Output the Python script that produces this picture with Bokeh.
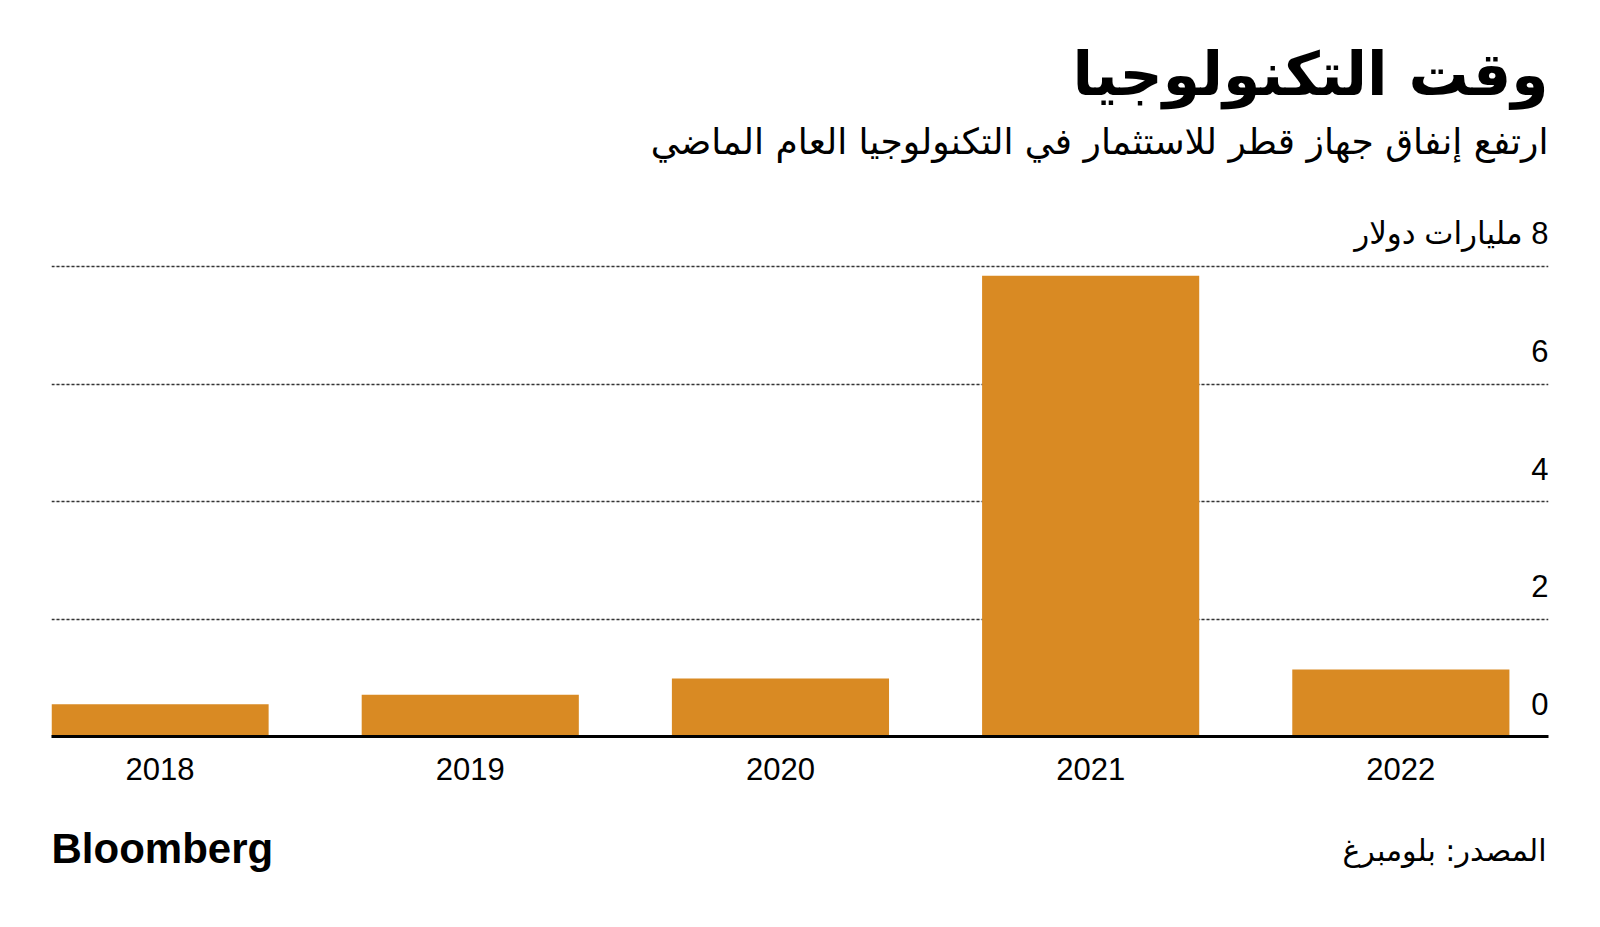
from bokeh.plotting import figure
from bokeh.layouts import column
from bokeh.models import FixedTicker, Grid, ColumnDataSource, Range1d
from bokeh.core.properties import value
from bokeh.embed import file_html
from bokeh.resources import INLINE

# ---- data ----
years = ["2018", "2019", "2020", "2021", "2022"]
spend = [0.55, 0.71, 0.99, 7.85, 1.14]   # billion dollars
y_ticks = [0, 2, 4, 6, 8]
unit = "مليارات دولار"
title_text = "وقت التكنولوجيا"
subtitle_text = "ارتفع إنفاق جهاز قطر للاستثمار في التكنولوجيا العام الماضي"
source_text = "المصدر: بلومبرغ"
logo_text = "Bloomberg"

idx = list(range(len(years)))
BAR = "#D98A23"
AR_FONT = "DejaVu Sans"
LAT_FONT = "Liberation Sans"
MIX_FONT = "Liberation Sans, DejaVu Sans"

W = 1600
TOP_H = 200
MAIN_H = 600
BOT_H = 127
LEFT, RIGHT = 51, 1548


def blank(h, y0):
    f = figure(width=W, height=h, output_backend="svg", toolbar_location=None,
               x_range=Range1d(LEFT, RIGHT), y_range=Range1d(y0 + h, y0),
               x_axis_location=None, y_axis_location=None,
               min_border_left=LEFT, min_border_right=W - RIGHT,
               min_border_top=0, min_border_bottom=0)
    f.outline_line_color = None
    f.grid.visible = False
    f.background_fill_color = "white"
    f.border_fill_color = "white"
    return f


# ---- header ----
top = blank(TOP_H, 0)
top.text(x=[1548], y=[73], text=[title_text], text_align="right", text_baseline="middle",
         text_font=value(AR_FONT), text_font_style="bold", text_font_size="60px",
         text_color="black")
top.text(x=[1548], y=[141], text=[subtitle_text], text_align="right", text_baseline="middle",
         text_font=value(AR_FONT), text_font_size="36px", text_color="black")

# ---- main chart ----
p = figure(width=W, height=MAIN_H, output_backend="svg", toolbar_location=None,
           x_range=Range1d(-0.35, 4.476), y_range=Range1d(0, 9.133),
           y_axis_location=None, min_border_left=LEFT, min_border_right=W - RIGHT,
           min_border_top=0, min_border_bottom=MAIN_H - 536)
p.outline_line_color = None
p.background_fill_color = "white"
p.border_fill_color = "white"
p.xgrid.visible = False

grid = Grid(dimension=1, ticker=FixedTicker(ticks=[t for t in y_ticks if t > 0]),
            grid_line_color="#333333", grid_line_width=1.5, grid_line_dash="3 2")
p.add_layout(grid)

src = ColumnDataSource(dict(x=idx, top=spend))
p.vbar(x="x", top="top", bottom=0, width=0.7, source=src, fill_color=BAR, line_color=None)

xa = p.xaxis[0]
xa.ticker = FixedTicker(ticks=idx)
xa.major_label_overrides = {i: y for i, y in zip(idx, years)}
xa.axis_line_color = "black"
xa.axis_line_width = 3
xa.major_tick_line_color = None
xa.minor_tick_line_color = None
xa.major_tick_out = 0
xa.major_label_standoff = 21
xa.major_label_text_font = LAT_FONT
xa.major_label_text_font_size = "31px"
xa.major_label_text_color = "black"

labels = [str(t) for t in y_ticks]
labels[-1] = "\u200F" + f"{y_ticks[-1]} {unit}"
lsrc = ColumnDataSource(dict(x=[4.476] * len(y_ticks), y=y_ticks, t=labels))
p.text(x="x", y="y", text="t", source=lsrc, text_align="right", text_baseline="middle",
       y_offset=-33, text_font=value(MIX_FONT), text_font_size="31px", text_color="black")

# ---- footer ----
bot = blank(BOT_H, TOP_H + MAIN_H)
bot.text(x=[51], y=[848], text=[logo_text], text_align="left", text_baseline="middle",
         text_font=value(LAT_FONT), text_font_style="bold", text_font_size="42px",
         text_color="black")
bot.text(x=[1546], y=[850], text=[source_text], text_align="right", text_baseline="middle",
         text_font=value(AR_FONT), text_font_size="30px", text_color="black")

layout = column(top, p, bot, spacing=0)
open("out.html", "w").write(file_html(layout, INLINE))
